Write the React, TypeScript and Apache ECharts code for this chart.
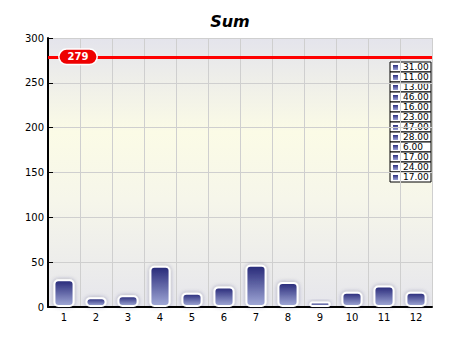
import React, { useEffect, useRef } from "react";
import * as echarts from "echarts";

const categories = ["1", "2", "3", "4", "5", "6", "7", "8", "9", "10", "11", "12"];
const values = [31, 11, 13, 46, 16, 23, 47, 28, 6, 17, 24, 17];
const yTicks = [0, 50, 100, 150, 200, 250, 300];
const titleText = "Sum";

export default function App() {
  const ref = useRef<HTMLDivElement>(null);
  useEffect(() => {
    if (!ref.current) return;
    const chart = echarts.init(ref.current, undefined, { renderer: "svg" });
    const total = values.reduce((a, b) => a + b, 0);
    const rowH = 10;
    const legendTop = 62;
    const legendLeft = 390;
    const legendW = 41;
    const legendItems: any[] = [];
    values.forEach((v, i) => {
      legendItems.push({
        type: "rect",
        shape: { x: legendLeft, y: legendTop + i * rowH, width: legendW, height: rowH },
        style: { fill: "#fff", stroke: "#000", lineWidth: 1 },
      });
      legendItems.push({
        type: "rect",
        shape: { x: legendLeft + 3, y: legendTop + i * rowH + 3, width: 5, height: 5 },
        style: {
          fill: new echarts.graphic.LinearGradient(0, 0, 0, 1, [
            { offset: 0, color: "#2b2d7c" },
            { offset: 1, color: "#9aa2d6" },
          ]),
        },
      });
      legendItems.push({
        type: "text",
        x: legendLeft + 13,
        y: legendTop + i * rowH + 5,
        style: {
          text: v.toFixed(2),
          fill: "#000",
          font: "9px Verdana, 'DejaVu Sans', sans-serif",
          verticalAlign: "middle",
        },
      });
    });
    chart.setOption({
      animation: false,
      title: {
        text: titleText,
        left: "center",
        top: 8,
        textStyle: {
          fontSize: 16,
          fontWeight: "bold",
          fontStyle: "italic",
          fontFamily: "'DejaVu Sans', Verdana, sans-serif",
          color: "#000",
        },
      },
      grid: {
        left: 48,
        right: 28,
        top: 38,
        bottom: 38,
        show: true,
        borderWidth: 0,
        backgroundColor: new echarts.graphic.LinearGradient(0, 0, 0, 1, [
          { offset: 0, color: "#e4e4ec" },
          { offset: 0.35, color: "#fbfbe6" },
          { offset: 0.6, color: "#f6f6ea" },
          { offset: 1, color: "#e6e6ec" },
        ]),
      },
      xAxis: {
        type: "category",
        data: categories,
        boundaryGap: true,
        axisLine: { lineStyle: { color: "#000", width: 2 } },
        axisTick: { inside: true, length: 5, lineStyle: { color: "#000" } },
        splitLine: { show: true, lineStyle: { color: "#cfcfcf" } },
        axisLabel: { color: "#000", fontSize: 10, fontFamily: "Verdana, 'DejaVu Sans', sans-serif", margin: 5 },
      },
      yAxis: {
        type: "value",
        min: yTicks[0],
        max: yTicks[yTicks.length - 1],
        interval: 50,
        axisLine: { show: true, lineStyle: { color: "#000", width: 2 } },
        axisTick: { show: true, inside: true, length: 5, lineStyle: { color: "#000" } },
        splitLine: { show: true, lineStyle: { color: "#cfcfcf" } },
        axisLabel: { color: "#000", fontSize: 10, fontFamily: "Verdana, 'DejaVu Sans', sans-serif", margin: 4 },
      },
      series: [
        {
          type: "bar",
          data: values,
          barWidth: "66%",
          itemStyle: {
            color: new echarts.graphic.LinearGradient(0, 0, 0, 1, [
              { offset: 0, color: "#262878" },
              { offset: 1, color: "#a2aad8" },
            ]),
            borderColor: "#fff",
            borderWidth: 2,
            borderRadius: 4,
            shadowColor: "rgba(40,40,90,0.35)",
            shadowBlur: 4,
          },
          markLine: {
            symbol: "none",
            silent: true,
            data: [{ yAxis: total }],
            lineStyle: { color: "#ff0000", width: 3, type: "solid" },
            label: {
              show: true,
              position: "insideStart",
              formatter: String(total),
              color: "#fff",
              fontWeight: "bold",
              fontSize: 10,
              fontFamily: "Verdana, 'DejaVu Sans', sans-serif",
              backgroundColor: "#ee0000",
              borderColor: "#fff",
              borderWidth: 1.5,
              borderRadius: 9,
              padding: [2, 8],
              verticalAlign: "middle",
              align: "center",
              distance: [30, 0],
            },
          },
        },
      ],
      graphic: legendItems,
    });
    return () => chart.dispose();
  }, []);
  return <div ref={ref} style={{ position: "absolute", left: 0, top: 0, width: 460, height: 345 }} />;
}
